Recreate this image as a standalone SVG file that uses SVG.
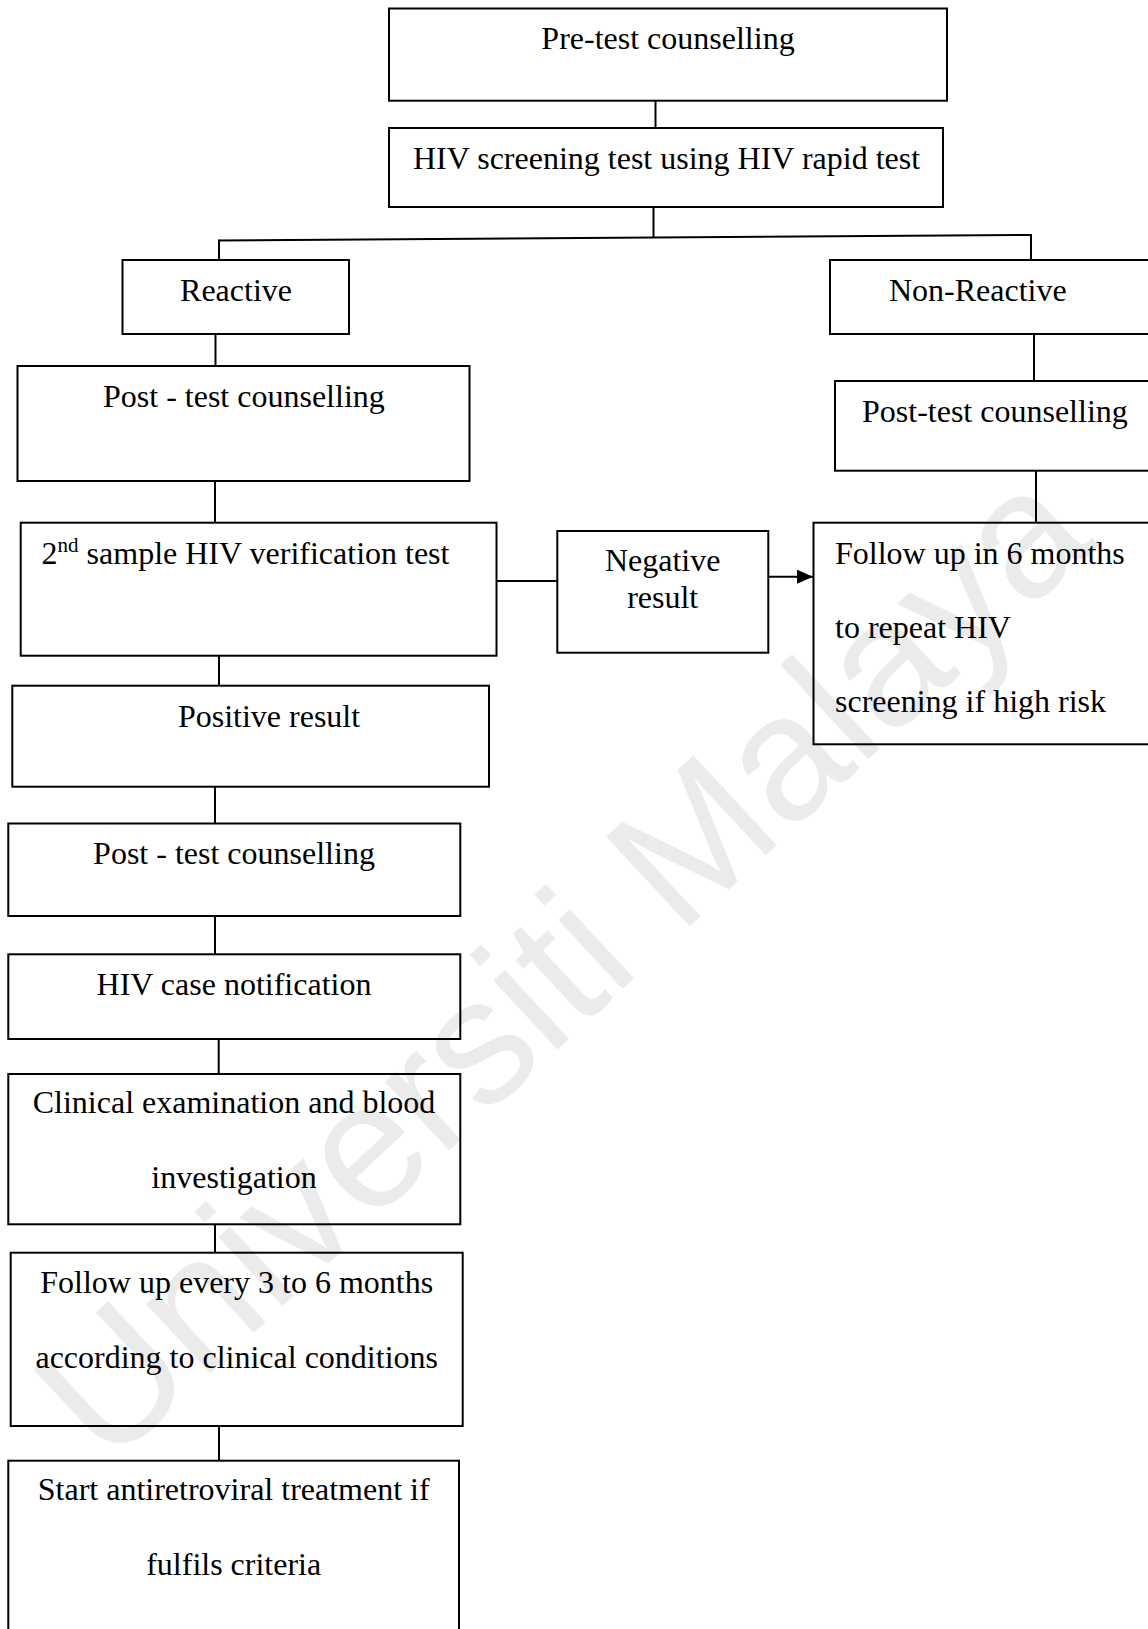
<svg xmlns="http://www.w3.org/2000/svg" width="1148" height="1629" viewBox="0 0 1148 1629">
<style>
.box{fill:none;stroke:#000;stroke-width:2}
.ln{fill:none;stroke:#000;stroke-width:2}
.t{font-family:"Liberation Serif","Times New Roman",serif;font-size:32px;fill:#000}
.c{text-anchor:middle}
.wm{font-family:"Liberation Sans",Arial,sans-serif;font-size:178px;fill:#ebebeb;text-anchor:middle}
</style>
<defs>
<marker id="arr" markerWidth="16" markerHeight="14" refX="16" refY="7" orient="auto" markerUnits="userSpaceOnUse" viewBox="0 0 16 14">
<path d="M0,0 L16,7 L0,14 z" fill="#000"/>
</marker>
</defs>
<rect width="1148" height="1629" fill="#fff"/>
<text class="wm" transform="translate(603,1007) rotate(-43)">Universiti Malaya</text>
<g id="connectors">
<line class="ln" x1="655.5" y1="100.7" x2="655.5" y2="128"/>
<line class="ln" x1="653.5" y1="207" x2="653.5" y2="238"/>
<line class="ln" x1="219" y1="240.5" x2="1031" y2="235"/>
<line class="ln" x1="219" y1="239.5" x2="219" y2="260"/>
<line class="ln" x1="1031" y1="234" x2="1031" y2="260"/>
<line class="ln" x1="215.5" y1="334" x2="215.5" y2="366"/>
<line class="ln" x1="215" y1="481" x2="215" y2="522.7"/>
<line class="ln" x1="496.5" y1="581" x2="557.3" y2="581"/>
<line class="ln" x1="768.3" y1="576.7" x2="813" y2="576.7" marker-end="url(#arr)"/>
<line class="ln" x1="1034" y1="334" x2="1034" y2="381"/>
<line class="ln" x1="1036" y1="470.7" x2="1036" y2="522.7"/>
<line class="ln" x1="219" y1="655.7" x2="219" y2="685.7"/>
<line class="ln" x1="215" y1="786.7" x2="215" y2="823.5"/>
<line class="ln" x1="215" y1="916" x2="215" y2="954.3"/>
<line class="ln" x1="218.7" y1="1039" x2="218.7" y2="1074"/>
<line class="ln" x1="215" y1="1224.3" x2="215" y2="1252.7"/>
<line class="ln" x1="219" y1="1426" x2="219" y2="1460.7"/>
</g>
<g id="pretest">
<rect class="box" x="389" y="8.5" width="558" height="92.2"/>
<text class="t c" x="668" y="49">Pre-test counselling</text>
</g>
<g id="screening">
<rect class="box" x="389" y="128" width="554" height="79"/>
<text class="t c" x="666.5" y="169">HIV screening test using HIV rapid test</text>
</g>
<g id="reactive">
<rect class="box" x="122.5" y="260" width="226.5" height="74"/>
<text class="t c" x="236" y="301">Reactive</text>
</g>
<g id="nonreactive">
<rect class="box" x="830" y="260" width="330" height="74"/>
<text class="t" x="889" y="301">Non-Reactive</text>
</g>
<g id="posttest-reactive">
<rect class="box" x="17.5" y="366" width="452" height="115"/>
<text class="t" x="103" y="407">Post - test counselling</text>
</g>
<g id="posttest-nonreactive">
<rect class="box" x="835" y="381" width="325" height="89.7"/>
<text class="t" x="862" y="422">Post-test counselling</text>
</g>
<g id="verification">
<rect class="box" x="20.7" y="522.7" width="475.8" height="133"/>
<text class="t" x="41.6" y="563.5">2<tspan font-size="21" dy="-12">nd</tspan><tspan dy="12"> sample HIV verification test</tspan></text>
</g>
<g id="negative">
<rect class="box" x="557.3" y="531" width="211" height="121.7"/>
<text class="t c" x="662.7" y="570.5">Negative</text>
<text class="t c" x="662.7" y="608">result</text>
</g>
<g id="followup-negative">
<rect class="box" x="813.5" y="522.7" width="346.5" height="221.6"/>
<text class="t" x="835" y="563.5">Follow up in 6 months</text>
<text class="t" x="835" y="638">to repeat HIV</text>
<text class="t" x="835" y="711.7">screening if high risk</text>
</g>
<g id="positive">
<rect class="box" x="12.3" y="685.7" width="476.7" height="101"/>
<text class="t c" x="269" y="726.7">Positive result</text>
</g>
<g id="posttest-positive">
<rect class="box" x="8.3" y="823.5" width="452" height="92.5"/>
<text class="t c" x="234" y="864">Post - test counselling</text>
</g>
<g id="notification">
<rect class="box" x="8.3" y="954.3" width="452" height="84.7"/>
<text class="t c" x="234" y="995">HIV case notification</text>
</g>
<g id="clinical">
<rect class="box" x="8.3" y="1074" width="452" height="150.3"/>
<text class="t c" x="234" y="1113.3">Clinical examination and blood</text>
<text class="t c" x="234" y="1187.7">investigation</text>
</g>
<g id="followup-positive">
<rect class="box" x="10.7" y="1252.7" width="452" height="173.3"/>
<text class="t c" x="236.7" y="1293">Follow up every 3 to 6 months</text>
<text class="t c" x="236.7" y="1367.7">according to clinical conditions</text>
</g>
<g id="art">
<rect class="box" x="8.3" y="1460.7" width="450.7" height="180"/>
<text class="t c" x="233.7" y="1500">Start antiretroviral treatment if</text>
<text class="t c" x="233.7" y="1575">fulfils criteria</text>
</g>
</svg>
